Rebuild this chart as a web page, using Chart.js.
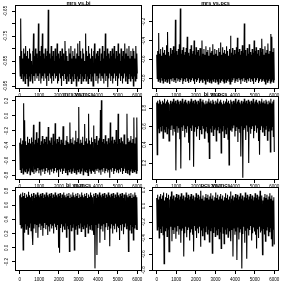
<!DOCTYPE html>
<html lang="en">
<head>
  <meta charset="UTF-8" />
  <title>MCMC traces of the correlations</title>
  <script src="https://cdn.jsdelivr.net/npm/chart.js"></script>
  <style>
    body { margin: 0; background: white; }
    .wrap { position: relative; width: 288px; height: 286px; }
    .wrap canvas { position: absolute; left: 0; top: 0; }
  </style>
</head>
<body>
  <div class="wrap">
    <canvas id="c1" width="288" height="286"></canvas>
    <canvas id="c2" width="288" height="286"></canvas>
    <canvas id="c3" width="288" height="286"></canvas>
    <canvas id="c4" width="288" height="286"></canvas>
    <canvas id="c5" width="288" height="286"></canvas>
    <canvas id="c6" width="288" height="286"></canvas>
  </div>

  <script>
    // iterations axis (same for all six panels)
    const iterTicks = [0, 1000, 2000, 3000, 4000, 5000, 6000];
    const iterLabels = ['0', '1000', '2000', '3000', '4000', '5000', '6000'];
    const iterRange = [-240, 6240];
    const iterLast = 6000;

    // mrs vs.bi  (one value every ~25 iterations)
    const mrsBi = [
      -.83, -.91, -.68, -.92, -.81, -.90, -.84, -.93, -.80, -.91, -.82, -.94,
      -.79, -.90, -.83, -.92, -.81, -.95, -.84, -.91, -.80, -.93, -.82, -.90,
      -.85, -.92, -.81, -.94, -.74, -.91, -.83, -.93, -.80, -.90, -.82, -.92,
      -.84, -.91, -.70, -.93, -.81, -.90, -.83, -.94, -.79, -.92, -.74, -.91,
      -.82, -.93, -.84, -.90, -.80, -.92, -.83, -.95, -.81, -.91, -.645, -.93,
      -.82, -.90, -.84, -.92, -.79, -.94, -.83, -.91, -.81, -.93, -.85, -.90,
      -.80, -.92, -.83, -.91, -.78, -.94, -.82, -.93, -.84, -.90, -.81, -.92,
      -.83, -.95, -.80, -.91, -.82, -.93, -.84, -.90, -.77, -.92, -.81, -.94,
      -.83, -.91, -.85, -.93, -.80, -.90, -.82, -.92, -.79, -.94, -.84, -.91,
      -.81, -.93, -.83, -.90, -.80, -.92, -.84, -.95, -.82, -.91, -.78, -.93,
      -.83, -.92, -.77, -.90, -.81, -.94, -.84, -.91, -.80, -.93, -.82, -.92,
      -.85, -.90, -.74, -.93, -.81, -.91, -.83, -.94, -.79, -.92, -.82, -.90,
      -.84, -.93, -.80, -.91, -.83, -.95, -.81, -.92, -.78, -.90, -.84, -.93,
      -.82, -.91, -.81, -.94, -.83, -.92, -.80, -.90, -.85, -.93, -.82, -.91,
      -.79, -.92, -.84, -.94, -.81, -.90, -.74, -.93, -.83, -.91, -.80, -.955,
      -.82, -.92, -.84, -.90, -.81, -.93, -.83, -.91, -.80, -.94, -.82, -.92,
      -.79, -.90, -.84, -.93, -.81, -.91, -.83, -.95, -.78, -.92, -.82, -.90,
      -.85, -.93, -.80, -.91, -.83, -.94, -.81, -.92, -.84, -.90, -.78, -.93,
      -.82, -.91, -.80, -.94, -.83, -.92, -.79, -.90, -.84, -.93, -.81, -.91,
      -.83, -.92, -.80, -.95, -.81, -.91, -.84, -.93, -.79, -.92, -.82, -.90
    ];
    const mrsBiTicks = [-0.95, -0.9, -0.85, -0.8, -0.75, -0.7, -0.65];
    const mrsBiLabels = ['-0.95', '', '-0.85', '', '-0.75', '', '-0.65'];
    const mrsBiRange = [-0.962, -0.626];

    // mrs vs.pcs
    const mrsPcs = [
      -.55, -.80, -.51, -.83, -.32, -.81, -.54, -.84, -.49, -.79, -.56, -.82,
      -.47, -.85, -.53, -.80, -.50, -.83, -.55, -.81, -.45, -.84, -.31, -.80,
      -.52, -.82, -.56, -.86, -.48, -.81, -.54, -.83, -.50, -.80, -.46, -.84,
      -.53, -.82, -.18, -.85, -.51, -.80, -.55, -.83, -.49, -.81, -.44, -.84,
      -.06, -.82, -.54, -.80, -.50, -.86, -.47, -.83, -.55, -.81, -.52, -.84,
      -.48, -.80, -.36, -.83, -.53, -.85, -.56, -.81, -.49, -.84, -.45, -.82,
      -.54, -.80, -.51, -.83, -.40, -.86, -.55, -.81, -.47, -.84, -.52, -.82,
      -.50, -.80, -.56, -.85, -.48, -.83, -.53, -.81, -.40, -.84, -.54, -.80,
      -.49, -.82, -.55, -.86, -.46, -.81, -.52, -.83, -.50, -.80, -.56, -.84,
      -.47, -.82, -.53, -.85, -.51, -.81, -.44, -.83, -.55, -.80, -.49, -.84,
      -.54, -.81, -.50, -.83, -.56, -.86, -.48, -.80, -.52, -.84, -.42, -.82,
      -.55, -.80, -.47, -.83, -.53, -.85, -.50, -.81, -.54, -.84, -.46, -.82,
      -.51, -.80, -.56, -.83, -.49, -.86, -.35, -.81, -.53, -.84, -.48, -.82,
      -.55, -.80, -.50, -.85, -.54, -.83, -.47, -.81, -.37, -.84, -.52, -.80,
      -.49, -.82, -.55, -.86, -.51, -.81, -.45, -.83, -.53, -.80, -.22, -.84,
      -.50, -.82, -.56, -.85, -.48, -.81, -.54, -.83, -.44, -.80, -.52, -.84,
      -.55, -.81, -.49, -.83, -.53, -.86, -.40, -.80, -.51, -.84, -.47, -.82,
      -.54, -.80, -.50, -.85, -.56, -.83, -.48, -.81, -.52, -.84, -.38, -.82,
      -.49, -.80, -.55, -.83, -.46, -.86, -.53, -.81, -.50, -.84, -.43, -.82,
      -.54, -.80, -.51, -.85, -.33, -.83, -.36, -.81, -.52, -.84, -.48, -.82
    ];
    const mrsPcsTicks = [-0.8, -0.6, -0.4, -0.2];
    const mrsPcsLabels = ['-0.8', '-0.6', '-0.4', '-0.2'];
    const mrsPcsRange = [-0.913, -0.023];

    // mrs vs.mcs
    const mrsMcs = [
      -.36, -.72, -.30, -.76, -.38, -.70, -.33, -.78, .17, -.73, -.06, -.75,
      -.34, -.71, -.39, -.77, -.28, -.74, -.36, -.70, -.31, -.79, -.37, -.73,
      -.29, -.75, -.35, -.71, -.12, -.78, -.38, -.72, -.32, -.76, -.22, -.74,
      -.36, -.70, -.30, -.77, -.08, -.73, -.39, -.80, -.34, -.72, -.27, -.75,
      -.37, -.71, -.31, -.78, -.35, -.74, -.28, -.70, -.38, -.76, -.15, -.73,
      -.33, -.79, -.36, -.72, -.29, -.75, -.39, -.71, -.24, -.77, -.34, -.74,
      -.10, -.70, -.37, -.76, -.31, -.73, -.35, -.82, -.28, -.72, -.38, -.75,
      -.32, -.71, -.36, -.78, -.14, -.74, -.30, -.70, -.39, -.76, -.33, -.73,
      -.27, -.79, -.35, -.72, -.37, -.75, -.09, -.71, -.31, -.77, -.36, -.74,
      -.29, -.70, -.38, -.76, -.33, -.73, -.20, -.78, -.35, -.72, -.30, -.75,
      .12, -.71, -.37, -.77, -.32, -.74, -.36, -.70, -.28, -.79, -.39, -.73,
      -.11, -.75, -.34, -.72, -.30, -.76, -.37, -.80, .03, -.71, -.33, -.74,
      -.38, -.77, -.29, -.73, -.35, -.70, -.13, -.75, -.31, -.78, -.36, -.72,
      -.27, -.74, -.39, -.71, -.33, -.76, -.30, -.73, .08, -.79, .21, -.72,
      -.35, -.75, -.31, -.70, -.37, -.77, -.26, -.74, -.34, -.71, -.38, -.76,
      -.30, -.73, -.36, -.83, -.09, -.72, -.33, -.75, -.28, -.70, -.37, -.78,
      -.32, -.74, -.35, -.71, -.19, -.76, -.38, -.73, .03, -.77, -.31, -.72,
      -.36, -.75, -.29, -.70, -.34, -.78, -.37, -.74, -.25, -.71, -.32, -.76,
      -.38, -.73, .03, -.77, -.30, -.72, -.35, -.79, -.33, -.74, -.27, -.71,
      -.36, -.76, -.31, -.73, -.02, -.75, -.37, -.72, -.29, -.77, -.02, -.74
    ];
    const mrsMcsTicks = [-0.8, -0.6, -0.4, -0.2, 0, 0.2];
    const mrsMcsLabels = ['-0.8', '-0.6', '-0.4', '-0.2', '0.0', '0.2'];
    const mrsMcsRange = [-0.86, 0.267];

    // bi vs.pcs
    const biPcs = [
      .86, .29, .88, .58, .85, .53, .89, .60, .87, .55, .84, .61,
      .88, .47, .86, .57, .90, .54, .85, .60, .87, .52, .89, .58,
      .86, .44, .84, .59, .88, .56, .85, .61, .87, .50, .90, .57,
      .86, .54, .88, .12, .85, .60, .89, .53, .87, .58, .84, .46,
      .88, .14, .86, .59, .90, .55, .85, .61, .87, .48, .89, .57,
      .86, .53, .84, .60, .88, .42, .85, .23, .87, .58, .90, .55,
      .86, .61, .88, .16, .85, .54, .89, .59, .87, .49, .84, .57,
      .88, .60, .86, .45, .90, .56, .85, .52, .87, .61, .89, .58,
      .86, .47, .84, .55, .88, .60, .85, .53, .87, .43, .90, .25,
      .86, .58, .88, .54, .85, .61, .89, .50, .87, .57, .84, .59,
      .88, .44, .86, .56, .90, .60, .85, .53, .87, .58, .89, .31,
      .86, .55, .84, .61, .88, .48, .85, .57, .87, .52, .90, .59,
      .86, .46, .88, .18, .85, .56, .89, .60, .87, .54, .84, .58,
      .88, .61, .86, .49, .90, .55, .85, .59, .87, .43, .89, .57,
      .86, .53, .84, .27, .88, .60, .85, .04, .87, .56, .90, .58,
      .86, .45, .88, .61, .85, .54, .89, .20, .87, .59, .84, .52,
      .88, .57, .86, .60, .90, .47, .85, .55, .87, .61, .89, .53,
      .86, .58, .84, .44, .88, .29, .85, .56, .87, .60, .90, .54,
      .86, .59, .88, .50, .85, .57, .89, .61, .87, .45, .84, .55,
      .88, .58, .86, .32, .90, .56, .85, .60, .87, .49, .89, .32
    ];
    const biPcsTicks = [0.2, 0.4, 0.6, 0.8];
    const biPcsLabels = ['0.2', '0.4', '0.6', '0.8'];
    const biPcsRange = [0.015, 0.931];

    // bi vs.mcs
    const biMcs = [
      .74, .33, .76, .28, .71, .30, .78, -.03, .73, .22, .77, .34,
      .70, .26, .75, .31, .72, .19, .79, .29, .74, .35, .71, .24,
      .76, .30, .73, .04, .77, .27, .70, .33, .75, .21, .72, .32,
      .78, .14, .74, .29, .71, .34, .76, .25, .73, .31, .77, .17,
      .70, .28, .75, .35, .72, .26, .78, .32, .74, .18, .71, .30,
      .76, .23, .73, .33, .77, .27, .70, .31, .75, .20, .72, .34,
      .78, .29, .74, .25, .71, .32, .76, .00, .73, -.07, .77, .28,
      .70, .33, .75, .22, .72, .30, .78, .26, .74, .35, .71, .15,
      .76, .31, .73, .27, .77, -.05, .70, .33, .75, .24, .72, .29,
      .78, .34, .74, -.03, .71, .26, .76, .31, .73, .19, .77, .33,
      .70, .28, .75, .35, .72, .23, .78, .30, .74, .27, .71, .32,
      .76, .16, .73, .29, .77, .34, .70, .21, .75, .31, .72, .26,
      .78, .33, .74, .25, .71, .30, .76, .18, .73, -.29, .77, .32,
      .70, -.10, .75, .28, .72, .34, .78, .07, .74, .26, .71, .31,
      .76, .23, .73, .33, .77, .11, .70, .29, .75, .35, .72, .25,
      .78, .30, .74, .02, .71, .27, .76, .33, .73, .20, .77, .31,
      .70, .26, .75, .34, .72, .22, .78, .30, .74, .28, .71, .11,
      .76, .32, .73, .24, .77, .33, .70, .19, .75, .29, .72, .35,
      .78, .27, .74, .31, .71, -.05, .76, .25, .73, .33, .77, .21,
      .70, .30, .75, .11, .72, .28, .78, .33, .74, .26, .71, .25
    ];
    const biMcsTicks = [-0.2, 0, 0.2, 0.4, 0.6, 0.8];
    const biMcsLabels = ['-0.2', '0.0', '0.2', '0.4', '0.6', '0.8'];
    const biMcsRange = [-0.327, 0.856];

    // pcs vs.mcs
    const pcsMcs = [
      .10, -.30, .14, -.26, .08, -.40, .12, -.28, .15, -.33, .09, -.25,
      .13, -.36, .17, -.72, .07, -.31, .11, -.27, .16, -.38, .10, -.29,
      .14, -.57, .08, -.34, .12, -.26, .18, -.44, .09, -.30, .13, -.35,
      .07, -.27, .11, -.41, .15, -.32, .10, -.25, .14, -.36, .08, -.29,
      .12, -.46, .16, -.31, .09, -.28, .13, -.63, .07, -.34, .11, -.26,
      .17, -.39, .10, -.30, .14, -.27, .08, -.43, .12, -.33, .15, -.29,
      .09, -.36, .13, -.57, .07, -.25, .11, -.31, .16, -.40, .10, -.28,
      .14, -.34, .08, -.26, .12, -.51, .19, -.30, .09, -.37, .13, -.27,
      .07, -.42, .11, -.32, .15, -.25, .10, -.35, .14, -.29, .08, -.45,
      .12, -.31, .16, -.27, .09, -.59, .13, -.33, .07, -.26, .11, -.38,
      .17, -.30, .10, -.36, .14, -.28, .08, -.41, .12, -.32, .15, -.53,
      .09, -.26, .13, -.34, .07, -.47, .11, -.29, .16, -.35, .10, -.27,
      .14, -.39, .08, -.31, .12, -.25, .18, -.44, .09, -.30, .13, -.63,
      .07, -.28, .11, -.36, .15, -.32, .10, -.675, .14, -.27, .08, -.42,
      .12, -.33, .16, -.29, .09, -.78, .13, -.35, .07, -.26, .11, -.46,
      .17, -.31, .10, -.66, .14, -.28, .08, -.37, .12, -.30, .15, -.25,
      .09, -.43, .13, -.34, .07, -.27, .11, -.32, .16, -.36, .10, -.53,
      .14, -.29, .08, -.40, .12, -.26, .19, -.33, .09, -.31, .13, -.61,
      .07, -.28, .11, -.35, .15, -.44, .10, -.30, .14, -.26, .08, -.37,
      .12, -.32, .16, -.27, .09, -.41, .13, -.50, .07, -.29, .11, -.48
    ];
    const pcsMcsTicks = [-0.8, -0.6, -0.4, -0.2, 0, 0.2];
    const pcsMcsLabels = ['-0.8', '-0.6', '-0.4', '-0.2', '0.0', '0.2'];
    const pcsMcsRange = [-0.8125, 0.2375];

    Chart.defaults.color = '#000';
    Chart.defaults.font.family = '"Liberation Sans", Arial, sans-serif';

    // box around the plot region + panel title, R style
    const framePlugin = {
      id: 'frame',
      afterDraw(chart, args, opts) {
        const { ctx, chartArea: a } = chart;
        ctx.save();
        ctx.strokeStyle = '#000';
        ctx.lineWidth = 1;
        ctx.strokeRect(a.left + 0.5, a.top + 0.5, a.right - a.left - 1, a.bottom - a.top - 1);
        ctx.fillStyle = '#000';
        ctx.font = 'bold 5.5px "Liberation Sans", Arial, sans-serif';
        ctx.textAlign = 'center';
        ctx.textBaseline = 'middle';
        ctx.fillText(opts.title, (a.left + a.right) / 2, a.top - 2);
        ctx.restore();
      }
    };

    const panels = [
      { id: 'c1', title: 'mrs vs.bi',  values: mrsBi,  yTicks: mrsBiTicks,  yLabels: mrsBiLabels,  yRange: mrsBiRange,  box: [15, 5, 142, 89] },
      { id: 'c2', title: 'mrs vs.pcs', values: mrsPcs, yTicks: mrsPcsTicks, yLabels: mrsPcsLabels, yRange: mrsPcsRange, box: [152, 5, 279, 89] },
      { id: 'c3', title: 'mrs vs.mcs', values: mrsMcs, yTicks: mrsMcsTicks, yLabels: mrsMcsLabels, yRange: mrsMcsRange, box: [15, 96, 142, 180] },
      { id: 'c4', title: 'bi vs.pcs',  values: biPcs,  yTicks: biPcsTicks,  yLabels: biPcsLabels,  yRange: biPcsRange,  box: [152, 96, 279, 180] },
      { id: 'c5', title: 'bi vs.mcs',  values: biMcs,  yTicks: biMcsTicks,  yLabels: biMcsLabels,  yRange: biMcsRange,  box: [15, 187, 142, 271] },
      { id: 'c6', title: 'pcs vs.mcs', values: pcsMcs, yTicks: pcsMcsTicks, yLabels: pcsMcsLabels, yRange: pcsMcsRange, box: [152, 187, 279, 271] }
    ];

    const axisGrid = { drawOnChartArea: false, tickLength: 3, color: '#000', lineWidth: 1 };

    panels.forEach((p, k) => {
      const [l, t, r, b] = p.box;
      const n = p.values.length;
      const points = p.values.map((v, i) => ({ x: i * iterLast / (n - 1), y: v }));
      const bottomRow = k >= 4;

      new Chart(document.getElementById(p.id), {
        type: 'line',
        data: {
          datasets: [{
            data: points,
            borderColor: '#000',
            borderWidth: 1.1,
            pointRadius: 0,
            tension: 0
          }]
        },
        options: {
          responsive: false,
          animation: false,
          devicePixelRatio: 1,
          layout: { padding: { left: l - 12, top: t, right: 288 - r, bottom: 286 - b - 12 } },
          plugins: {
            legend: { display: false },
            tooltip: { enabled: false },
            frame: { title: p.title }
          },
          scales: {
            x: {
              type: 'linear',
              min: iterRange[0],
              max: iterRange[1],
              afterBuildTicks: s => { s.ticks = iterTicks.map(v => ({ value: v })); },
              afterFit: s => { s.height = 12; },
              grid: axisGrid,
              border: { display: false },
              ticks: {
                autoSkip: false, maxRotation: 0, padding: bottomRow ? 3 : 1,
                font: { size: 4.5 },
                callback: (v, i) => iterLabels[i]
              }
            },
            y: {
              min: p.yRange[0],
              max: p.yRange[1],
              afterBuildTicks: s => { s.ticks = p.yTicks.map(v => ({ value: v })); },
              afterFit: s => { s.width = 12; },
              grid: axisGrid,
              border: { display: false },
              ticks: {
                autoSkip: false, minRotation: 90, maxRotation: 90,
                crossAlign: 'center', padding: 1,
                font: { size: 4.5 },
                callback: (v, i) => p.yLabels[i]
              }
            }
          }
        },
        plugins: [framePlugin]
      });
    });
  </script>
</body>
</html>
